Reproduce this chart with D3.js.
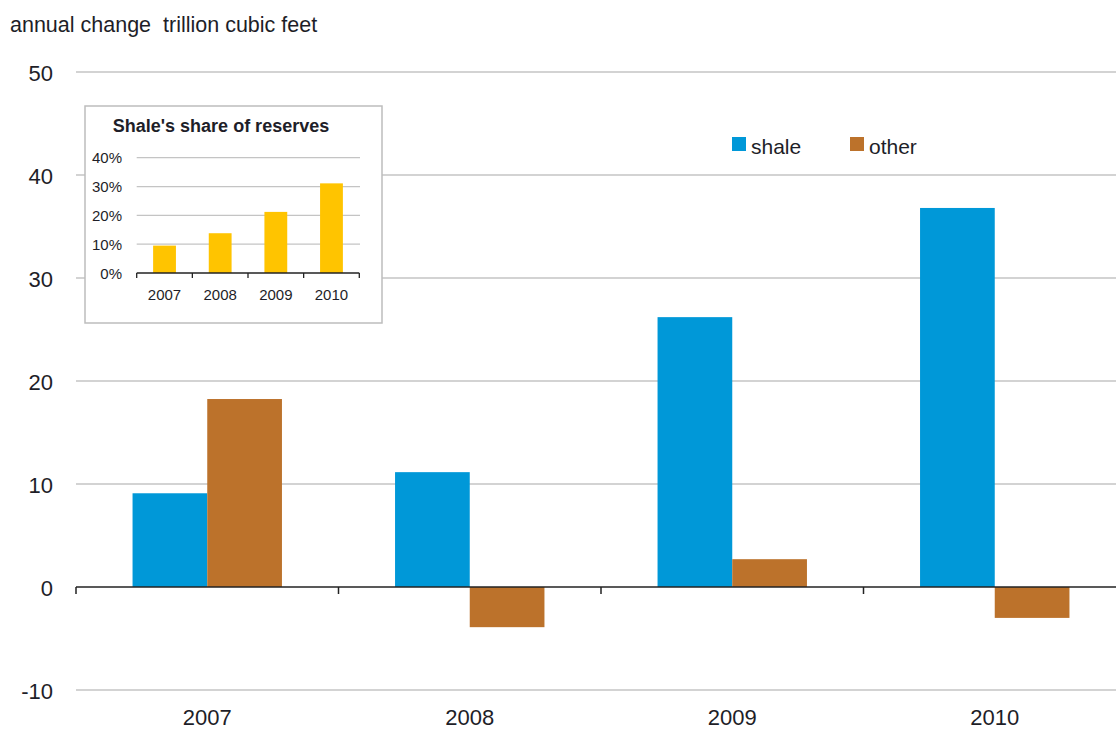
<!DOCTYPE html>
<html>
<head>
<meta charset="utf-8">
<script src="https://cdn.jsdelivr.net/npm/d3@7"></script>
<style>
  html, body { margin: 0; padding: 0; background: #fff; }
  svg { display: block; font-family: "Liberation Sans", Arial, sans-serif; }
</style>
</head>
<body>
<svg id="chart" width="1116" height="729"></svg>
<script>
// ---- data ----
const years = ["2007", "2008", "2009", "2010"];
const seriesNames = ["shale", "other"];
const shaleValues = [9.1, 11.15, 26.2, 36.8];
const otherValues = [18.25, -3.9, 2.7, -3.0];
const yTicks = [-10, 0, 10, 20, 30, 40, 50];
const shareValues = [9.5, 13.8, 21.2, 31.1];
const shareTicks = [0, 10, 20, 30, 40];
const colors = { shale: "#0098D8", other: "#BC722B" };
const shareColor = "#FFC400";
const textColor = "#1e1e28";

const svg = d3.select("#chart");

// ---- main chart ----
const y = d3.scaleLinear().domain([-10, 50]).range([690, 72]);
const x0 = d3.scaleBand().domain(years).range([76, 1126]).paddingInner(0).paddingOuter(0);
const x1 = d3.scaleBand().domain(seriesNames).range([0, x0.bandwidth()]).paddingInner(0).paddingOuter(0.757);

// gridlines
svg.append("g").selectAll("line")
  .data(yTicks.filter(t => t !== 0))
  .join("line")
  .attr("x1", 76).attr("x2", 1116)
  .attr("y1", d => y(d)).attr("y2", d => y(d))
  .attr("stroke", "#c4c4c4").attr("stroke-width", 1.5);

// y tick labels
svg.append("g").selectAll("text")
  .data(yTicks)
  .join("text")
  .attr("x", 53).attr("y", d => y(d) + 8.5)
  .attr("text-anchor", "end")
  .attr("font-size", 22).attr("fill", textColor)
  .text(d => d);

// bars
const rows = years.map((yr, i) => ({ year: yr, shale: shaleValues[i], other: otherValues[i] }));
const groups = svg.append("g").selectAll("g")
  .data(rows)
  .join("g")
  .attr("transform", d => `translate(${x0(d.year)},0)`);
groups.selectAll("rect")
  .data(d => seriesNames.map(s => ({ key: s, value: d[s] })))
  .join("rect")
  .attr("x", d => x1(d.key))
  .attr("width", x1.bandwidth())
  .attr("y", d => y(Math.max(0, d.value)))
  .attr("height", d => Math.abs(y(d.value) - y(0)))
  .attr("fill", d => colors[d.key]);

// zero axis
svg.append("line")
  .attr("x1", 76).attr("x2", 1116)
  .attr("y1", y(0)).attr("y2", y(0))
  .attr("stroke", "#222").attr("stroke-width", 1.5);
svg.append("g").selectAll("line")
  .data(years.map(yr => x0(yr)))
  .join("line")
  .attr("x1", d => d).attr("x2", d => d)
  .attr("y1", y(0)).attr("y2", y(0) + 7)
  .attr("stroke", "#222").attr("stroke-width", 1.5);

// x labels
svg.append("g").selectAll("text")
  .data(years)
  .join("text")
  .attr("x", d => x0(d) + x0.bandwidth() / 2)
  .attr("y", 725)
  .attr("text-anchor", "middle")
  .attr("font-size", 22).attr("fill", textColor)
  .text(d => d);

// axis title
svg.append("text")
  .attr("x", 10).attr("y", 32)
  .attr("font-size", 21.5).attr("fill", textColor)
  .attr("xml:space", "preserve")
  .text("annual change  trillion cubic feet");

// legend
const legend = svg.append("g");
const legendItems = [{ key: "shale", x: 732 }, { key: "other", x: 850 }];
legend.selectAll("rect")
  .data(legendItems)
  .join("rect")
  .attr("x", d => d.x).attr("y", 137)
  .attr("width", 14).attr("height", 14)
  .attr("fill", d => colors[d.key]);
legend.selectAll("text")
  .data(legendItems)
  .join("text")
  .attr("x", d => d.x + 19).attr("y", 154)
  .attr("font-size", 21).attr("fill", textColor)
  .text(d => d.key);

// ---- inset ----
const inset = svg.append("g");
inset.append("rect")
  .attr("x", 85).attr("y", 106)
  .attr("width", 297).attr("height", 217)
  .attr("fill", "#fff").attr("stroke", "#bdbdbd").attr("stroke-width", 1.5);

inset.append("text")
  .attr("x", 221).attr("y", 132)
  .attr("text-anchor", "middle")
  .attr("font-size", 18).attr("font-weight", "bold").attr("fill", textColor)
  .text("Shale's share of reserves");

const iy = d3.scaleLinear().domain([0, 40]).range([273, 157.7]);
const ix = d3.scaleBand().domain(years).range([136.7, 359.3]).paddingInner(0.59).paddingOuter(0.295);

inset.append("g").selectAll("line")
  .data(shareTicks.filter(t => t !== 0))
  .join("line")
  .attr("x1", 136.7).attr("x2", 360)
  .attr("y1", d => iy(d)).attr("y2", d => iy(d))
  .attr("stroke", "#c4c4c4").attr("stroke-width", 1.2);

inset.append("g").selectAll("text")
  .data(shareTicks)
  .join("text")
  .attr("x", 122).attr("y", d => iy(d) + 5.5)
  .attr("text-anchor", "end")
  .attr("font-size", 15).attr("fill", textColor)
  .text(d => d + "%");

inset.append("g").selectAll("rect")
  .data(years.map((yr, i) => ({ year: yr, value: shareValues[i] })))
  .join("rect")
  .attr("x", d => ix(d.year))
  .attr("width", ix.bandwidth())
  .attr("y", d => iy(d.value))
  .attr("height", d => iy(0) - iy(d.value))
  .attr("fill", shareColor);

inset.append("line")
  .attr("x1", 136.7).attr("x2", 359.3)
  .attr("y1", iy(0)).attr("y2", iy(0))
  .attr("stroke", "#222").attr("stroke-width", 1.3);
inset.append("g").selectAll("line")
  .data(d3.range(years.length + 1).map(i => 136.7 + i * (359.3 - 136.7) / years.length))
  .join("line")
  .attr("x1", d => d).attr("x2", d => d)
  .attr("y1", iy(0)).attr("y2", iy(0) + 5)
  .attr("stroke", "#222").attr("stroke-width", 1.3);

inset.append("g").selectAll("text")
  .data(years)
  .join("text")
  .attr("x", d => ix(d) + ix.bandwidth() / 2)
  .attr("y", 300)
  .attr("text-anchor", "middle")
  .attr("font-size", 15).attr("fill", textColor)
  .text(d => d);
</script>
</body>
</html>
